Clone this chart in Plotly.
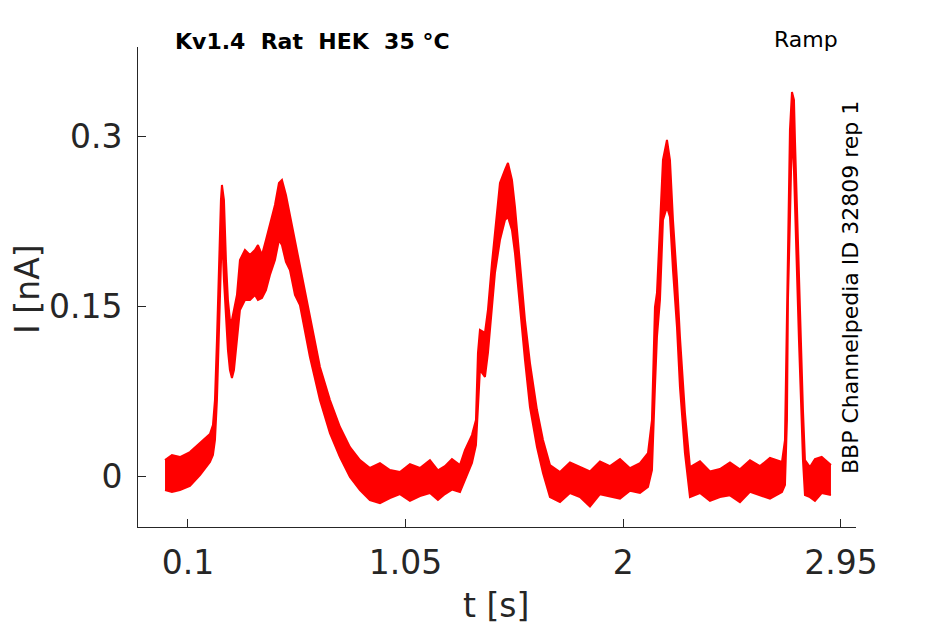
import plotly.graph_objects as go

t = [0.0, 0.0302, 0.065, 0.1087, 0.1524, 0.196, 0.2091, 0.2179, 0.2266, 0.2353,
     0.2440, 0.2484, 0.2571, 0.2659, 0.2746, 0.2833, 0.2921, 0.3008, 0.3139, 0.3270,
     0.3488, 0.3706, 0.3925, 0.4056, 0.4230, 0.4405, 0.4579, 0.4798, 0.4972, 0.5103,
     0.5278, 0.5452, 0.5671, 0.5889, 0.6325, 0.6762, 0.7198, 0.7635, 0.8071, 0.8508,
     0.8944, 0.9381, 0.9817, 1.0254, 1.0690, 1.1127, 1.1563, 1.1912, 1.2218, 1.2524,
     1.2873, 1.3091, 1.3397, 1.3571, 1.3659, 1.3746, 1.3964, 1.4095, 1.4270, 1.4401,
     1.4619, 1.4838, 1.4969, 1.5143, 1.5274, 1.5492, 1.5711, 1.5929, 1.6235, 1.6497,
     1.6802, 1.7239, 1.7675, 1.8112, 1.8548, 1.8985, 1.9421, 1.9858, 2.0294, 2.0731,
     2.1080, 2.1254, 2.1385, 2.1472, 2.1603, 2.1734, 2.1909, 2.2040, 2.2171, 2.2345,
     2.2476, 2.2694, 2.2913, 2.3349, 2.3786, 2.4222, 2.4659, 2.5095, 2.5532, 2.5968,
     2.6405, 2.6928, 2.7059, 2.7146, 2.7190, 2.7277, 2.7365, 2.7452, 2.7496, 2.7583,
     2.7670, 2.7758, 2.7845, 2.7932, 2.8150, 2.8368, 2.8663, 2.9067]

i_upper = [0.0141, 0.0186, 0.0168, 0.0212, 0.0292, 0.0371, 0.0451, 0.0672, 0.1202, 0.1909,
           0.2439, 0.2571, 0.2439, 0.1909, 0.1555, 0.1378, 0.1378, 0.1467, 0.1599, 0.1909,
           0.1997, 0.1953, 0.1997, 0.2041, 0.1953, 0.2085, 0.2218, 0.2395, 0.2589, 0.2615,
           0.2483, 0.2306, 0.2085, 0.1864, 0.1440, 0.0963, 0.0672, 0.0433, 0.0256, 0.0141,
           0.0071, 0.0115, 0.0053, 0.0035, 0.0106, 0.0071, 0.0141, 0.0050, 0.0088, 0.0150,
           0.0097, 0.0230, 0.0362, 0.0495, 0.1087, 0.1290, 0.1264, 0.1467, 0.1882, 0.2174,
           0.2589, 0.2704, 0.2766, 0.2615, 0.2377, 0.1882, 0.1378, 0.0998, 0.0583, 0.0318,
           0.0097, 0.0035, 0.0120, 0.0080, 0.0040, 0.0130, 0.0088, 0.0150, 0.0070, 0.0115,
           0.0203, 0.0495, 0.1493, 0.1617, 0.2262, 0.2792, 0.2969, 0.2792, 0.2262, 0.1732,
           0.1228, 0.0557, 0.0080, 0.0130, 0.0040, 0.0062, 0.0120, 0.0060, 0.0140, 0.0088,
           0.0160, 0.0124, 0.0318, 0.1555, 0.2262, 0.3057, 0.3393, 0.3322, 0.2969, 0.2350,
           0.1732, 0.1202, 0.0583, 0.0141, 0.0080, 0.0150, 0.0170, 0.0097]

i_lower = [-0.0124, -0.0141, -0.0124, -0.0088, 0.0009, 0.0124, 0.0186, 0.0318, 0.0672, 0.1290,
           0.1820, 0.2174, 0.1732, 0.1378, 0.1113, 0.0937, 0.0866, 0.0937, 0.1202, 0.1467,
           0.1555, 0.1555, 0.1599, 0.1555, 0.1573, 0.1643, 0.1776, 0.1909, 0.2085, 0.2041,
           0.1891, 0.1820, 0.1599, 0.1511, 0.1051, 0.0672, 0.0380, 0.0168, -0.0009, -0.0124,
           -0.0212, -0.0240, -0.0194, -0.0160, -0.0220, -0.0177, -0.0150, -0.0210, -0.0159, -0.0120,
           -0.0141, -0.0035, 0.0115, 0.0274, 0.0557, 0.0937, 0.0875, 0.1087, 0.1493, 0.1794,
           0.2085, 0.2262, 0.2289, 0.2174, 0.1970, 0.1493, 0.1025, 0.0610, 0.0256, 0.0027,
           -0.0186, -0.0230, -0.0150, -0.0186, -0.0270, -0.0160, -0.0177, -0.0200, -0.0130, -0.0150,
           -0.0097, 0.0053, 0.0786, 0.1228, 0.1555, 0.2262, 0.2377, 0.2289, 0.1820, 0.1317,
           0.0786, 0.0203, -0.0186, -0.0150, -0.0220, -0.0186, -0.0170, -0.0230, -0.0140, -0.0168,
           -0.0200, -0.0141, -0.0080, 0.0495, 0.1555, 0.2262, 0.3057, 0.2704, 0.2350, 0.1820,
           0.1202, 0.0672, 0.0141, -0.0168, -0.0186, -0.0220, -0.0150, -0.0168]

x_ticks = [0.1, 1.05, 2, 2.95]
x_labels = ['0.1', '1.05', '2', '2.95']
y_ticks = [0, 0.15, 0.3]
y_labels = ['0', '0.15', '0.3']

ink = '#262626'
font = 'DejaVu Sans'

fig = go.Figure()
fig.add_trace(go.Scatter(x=t, y=i_lower, mode='lines',
                         line=dict(color='#ff0000', width=2), showlegend=False))
fig.add_trace(go.Scatter(x=t, y=i_upper, mode='lines',
                         line=dict(color='#ff0000', width=2),
                         fill='tonexty', fillcolor='#ff0000', showlegend=False))

# the page has an 8px body margin, so the figure is a little smaller than the window
fig.update_layout(
    width=937, height=616,
    margin=dict(l=130, r=89, t=39, b=97),
    paper_bgcolor='white', plot_bgcolor='white',
    font=dict(family=font, color=ink),
    xaxis=dict(range=[-0.118, 3.016], tickvals=x_ticks, ticktext=x_labels,
               ticks='inside', ticklen=8, tickcolor=ink, tickwidth=1,
               showline=True, linecolor=ink, linewidth=1,
               showgrid=False, zeroline=False, ticklabelstandoff=6,
               tickfont=dict(size=33, color=ink)),
    yaxis=dict(range=[-0.045, 0.379], tickvals=y_ticks, ticktext=y_labels,
               ticks='inside', ticklen=8, tickcolor=ink, tickwidth=1,
               showline=True, linecolor=ink, linewidth=1,
               showgrid=False, zeroline=False, ticklabelstandoff=8,
               tickfont=dict(size=33, color=ink)),
)

fig.add_annotation(text='t [s]', xref='paper', yref='paper', x=0.4986, y=-0.1625,
                   xanchor='center', yanchor='middle', showarrow=False,
                   font=dict(family=font, size=33, color=ink))
fig.add_annotation(text='I [nA]', xref='paper', yref='paper', x=-0.1532, y=0.494,
                   xanchor='center', yanchor='middle', textangle=-90, showarrow=False,
                   borderpad=0, font=dict(family=font, size=33, color=ink))

fig.add_annotation(text='<b>Kv1.4\u00a0\u00a0Rat\u00a0\u00a0HEK\u00a0\u00a035\u00a0°C</b>',
                   xref='paper', yref='paper', x=0.049, y=1.0125,
                   xanchor='left', yanchor='middle', showarrow=False,
                   font=dict(family=font, size=22, color='black'))
fig.add_annotation(text='Ramp', xref='paper', yref='paper', x=0.9777, y=1.0146,
                   xanchor='right', yanchor='middle', showarrow=False,
                   font=dict(family=font, size=22, color='black'))
fig.add_annotation(text='BBP Channelpedia ID 32809 rep 1', xref='paper', yref='paper',
                   x=0.9916, y=0.5, xanchor='center', yanchor='middle', textangle=-90,
                   showarrow=False, font=dict(family=font, size=22, color='black'))

fig.write_html('out.html')
